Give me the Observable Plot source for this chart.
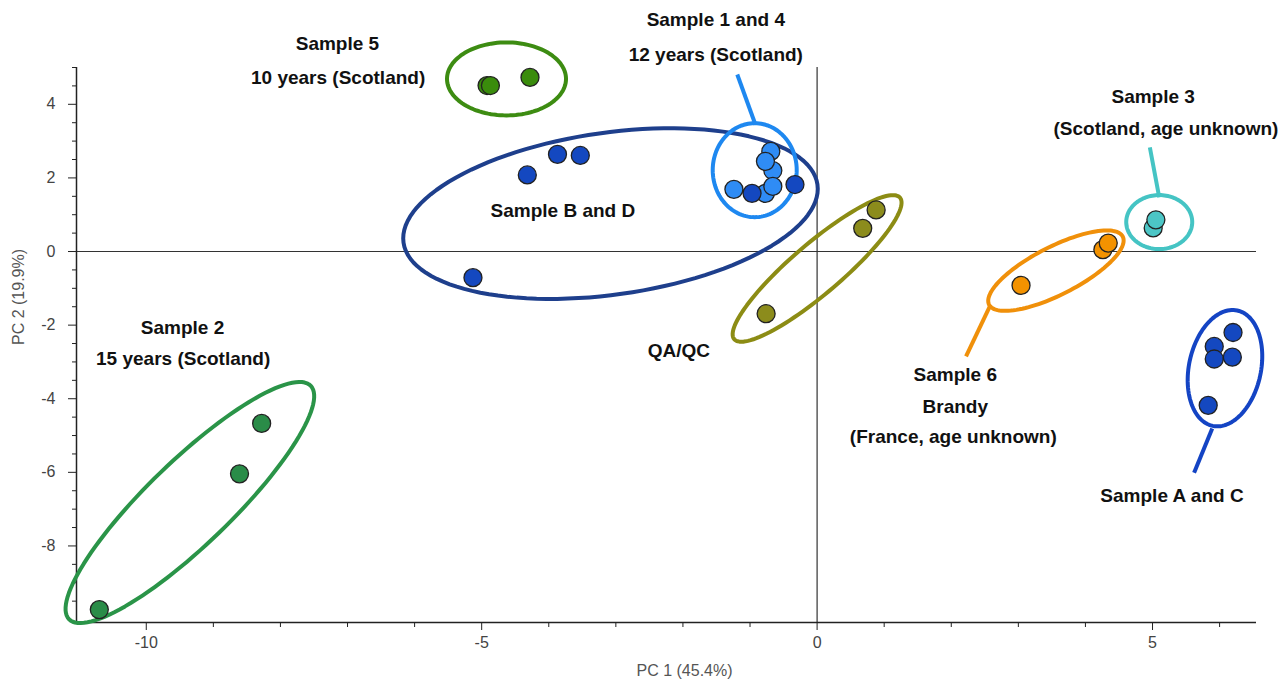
<!DOCTYPE html>
<html><head><meta charset="utf-8">
<script src="https://cdn.jsdelivr.net/npm/d3@7"></script>
<script src="https://cdn.jsdelivr.net/npm/@observablehq/plot@0.6"></script>
<style>
body{margin:0;background:#fff;}
#chart{width:1280px;height:686px;}
</style>
</head><body><div id="chart"></div>
<script>
// ---------- data ----------
const groupNames  = ["Sample 5","Sample B and D","Sample 1 and 4","QA/QC","Sample 6","Sample 3","Sample A and C","Sample 2"];
const groupFill   = ["#3a8c0c","#1448c0","#2f8cf5","#8c8c1c","#f39200","#4cc6c6","#1448c0","#2a8c48"];
const groupRing   = ["#3d8c12","#1e3f8c","#1e88f0","#8c8c14","#f0900a","#45c4c4","#1444c4","#2a9448"];

// score points (PC1, PC2) and their group
const pc1   = [-4.92,-4.87,-4.28, -3.87,-3.53,-4.32,-5.13,-0.33, -0.77, -0.97, -0.66,-0.69,-0.77,-1.24,-0.66, 0.88,0.68,-0.76, 3.04,4.26,4.34, 5.01,5.05, 6.20,5.92,5.92,6.19,5.83, -8.28,-8.61,-10.70];
const pc2   = [ 4.51, 4.51, 4.73,  2.64, 2.61, 2.08,-0.71, 1.82,  1.58,  1.58,  2.20, 2.72, 2.45, 1.69, 1.77, 1.13,0.63,-1.69, -0.92,0.05,0.23, 0.64,0.86, -2.20,-2.58,-2.92,-2.87,-4.18, -4.67,-6.04,-9.73];
const pgrp  = ["Sample 5","Sample 5","Sample 5",
  "Sample B and D","Sample B and D","Sample B and D","Sample B and D","Sample B and D",
  "Sample 1 and 4","Sample B and D",
  "Sample 1 and 4","Sample 1 and 4","Sample 1 and 4","Sample 1 and 4","Sample 1 and 4",
  "QA/QC","QA/QC","QA/QC","Sample 6","Sample 6","Sample 6","Sample 3","Sample 3",
  "Sample A and C","Sample A and C","Sample A and C","Sample A and C","Sample A and C",
  "Sample 2","Sample 2","Sample 2"];

// group ellipses: centre (data units), semi-axes (px) and rotation (deg)
const ellGroup = ["Sample 5","Sample B and D","Sample 1 and 4","QA/QC","Sample 6","Sample 3","Sample A and C","Sample 2"];
const ellCx    = [-4.63,-3.08,-0.93, 0.00, 3.56, 5.10, 6.08,-9.35];
const ellCy    = [ 4.69, 1.03, 2.21,-0.46,-0.52, 0.80,-3.17,-6.82];
const ellA     = [ 59.5, 209,  42,   109,  75,   33,   36,   168];
const ellB     = [ 36.5, 81,   47,   25,   24,   27,   59,   42];
const ellRot   = [ 0,   -8,    0,   -40.5,-27,   0,    12,  -44];

// leader lines
const leadGroup = ["Sample 1 and 4","Sample 3","Sample 6","Sample A and C"];
const leadX1 = [-1.19, 4.96, 2.58, 5.89];
const leadY1 = [ 4.81, 2.83,-1.47,-4.81];
const leadX2 = [-0.92, 5.10, 2.22, 5.62];
const leadY2 = [ 3.45, 1.47,-2.85,-6.01];

// annotation texts
const labelText = ["Sample 5","10 years (Scotland)","Sample 1 and 4","12 years (Scotland)","Sample 3","(Scotland, age unknown)",
  "Sample B and D","QA/QC","Sample 2","15 years (Scotland)","Sample 6","Brandy","(France, age unknown)","Sample A and C"];
const labelX = [-7.15,-7.14,-1.51,-1.51,5.01,5.20,-3.79,-2.06,-9.46,-9.45,2.06,2.06,2.03,5.29];
const labelY = [ 5.65, 4.73, 6.28, 5.33,4.21,3.34, 1.09,-2.69,-2.07,-2.93,-3.34,-4.21,-5.05,-6.63];

// axes
const xMajor = [-10,-5,0,5];
const xMinor = [-9,-8,-7,-6,-4,-3,-2,-1,1,2,3,4,6];
const yMajor = [-8,-6,-4,-2,0,2,4];
const yMinor = [-9.5,-9,-8.5,-7.5,-7,-6.5,-5.5,-5,-4.5,-3.5,-3,-2.5,-1.5,-1,-0.5,0.5,1,1.5,2.5,3,3.5,4.5,5];
const xLabel = "PC 1 (45.4%)";
const yLabel = "PC 2 (19.9%)";

// ---------- layout ----------
const W = 1280, H = 686;
const M = {top: 67, right: 24, bottom: 64, left: 76};
const xDom = [-11.04, 6.55], yDom = [-10.08, 5.0];
const kx = (W - M.left - M.right) / (xDom[1] - xDom[0]);
const ky = (H - M.top - M.bottom) / (yDom[1] - yDom[0]);

const colorOf = g => groupFill[groupNames.indexOf(g)];
const ringOf = g => groupRing[groupNames.indexOf(g)];

const points = pc1.map((x, i) => ({x, y: pc2[i], g: pgrp[i]}));

const ellPts = [];
ellGroup.forEach((g, i) => {
  const th = ellRot[i] * Math.PI / 180;
  for (let k = 0; k <= 120; k++) {
    const t = k / 120 * 2 * Math.PI;
    const dx = ellA[i] * Math.cos(t) * Math.cos(th) - ellB[i] * Math.sin(t) * Math.sin(th);
    const dy = ellA[i] * Math.cos(t) * Math.sin(th) + ellB[i] * Math.sin(t) * Math.cos(th);
    ellPts.push({id: i, g, x: ellCx[i] + dx / kx, y: ellCy[i] - dy / ky});
  }
});
const leaders = leadGroup.map((g, i) => ({g, x1: leadX1[i], y1: leadY1[i], x2: leadX2[i], y2: leadY2[i]}));
const labels = labelText.map((t, i) => ({t, x: labelX[i], y: labelY[i]}));

const tickFont = "'Liberation Sans Narrow','Liberation Sans',Arial,sans-serif";

const chart = Plot.plot({
  width: W, height: H,
  marginTop: M.top, marginRight: M.right, marginBottom: M.bottom, marginLeft: M.left,
  x: {domain: xDom, axis: null},
  y: {domain: yDom, axis: null},
  color: {type: "identity"},
  style: {background: "#fff", fontFamily: "'Liberation Sans',Arial,sans-serif"},
  marks: [
    // crosshair at origin
    Plot.ruleX([0], {stroke: "#333", strokeWidth: 1.2}),
    Plot.ruleY([0], {stroke: "#333", strokeWidth: 1.2}),
    // axis lines
    Plot.ruleX([xDom[0]], {stroke: "#222", strokeWidth: 1.5}),
    Plot.ruleY([yDom[0]], {stroke: "#222", strokeWidth: 1.5}),
    // minor ticks
    Plot.axisX(xMinor, {tickSize: 5, tickFormat: () => "", stroke: "#222", label: null}),
    Plot.axisY(yMinor, {tickSize: 4, tickFormat: () => "", stroke: "#222", label: null}),
    // major ticks
    Plot.axisX(xMajor, {tickSize: 8, tickPadding: 6, tickFormat: d => String(d), fontSize: 16, fill: "#444", stroke: "#222", fontFamily: tickFont, label: null}),
    Plot.axisY(yMajor, {tickSize: 8, tickPadding: 13, tickFormat: d => String(d), fontSize: 16, fill: "#444", stroke: "#222", fontFamily: tickFont, label: null}),
    // axis titles
    Plot.text([xLabel], {text: d => d, frameAnchor: "bottom", dy: 53, dx: 18, fontSize: 16, fill: "#555", fontFamily: tickFont}),
    Plot.text([yLabel], {text: d => d, frameAnchor: "left", dx: -58, rotate: -90, fontSize: 16, fill: "#555", fontFamily: tickFont}),
    // ellipses
    Plot.line(ellPts, {x: "x", y: "y", z: "id", stroke: d => ringOf(d.g), strokeWidth: 4, curve: "linear"}),
    // leader lines
    Plot.link(leaders, {x1: "x1", y1: "y1", x2: "x2", y2: "y2", stroke: d => ringOf(d.g), strokeWidth: 4}),
    // points
    Plot.dot(points, {x: "x", y: "y", r: 9, fill: d => colorOf(d.g), stroke: "#222", strokeWidth: 1.3}),
    // annotations
    Plot.text(labels, {x: "x", y: "y", text: "t", fontSize: 19, fontWeight: "bold", fill: "#111", textAnchor: "middle"})
  ]
});
document.getElementById("chart").appendChild(chart);
</script>
</body></html>
